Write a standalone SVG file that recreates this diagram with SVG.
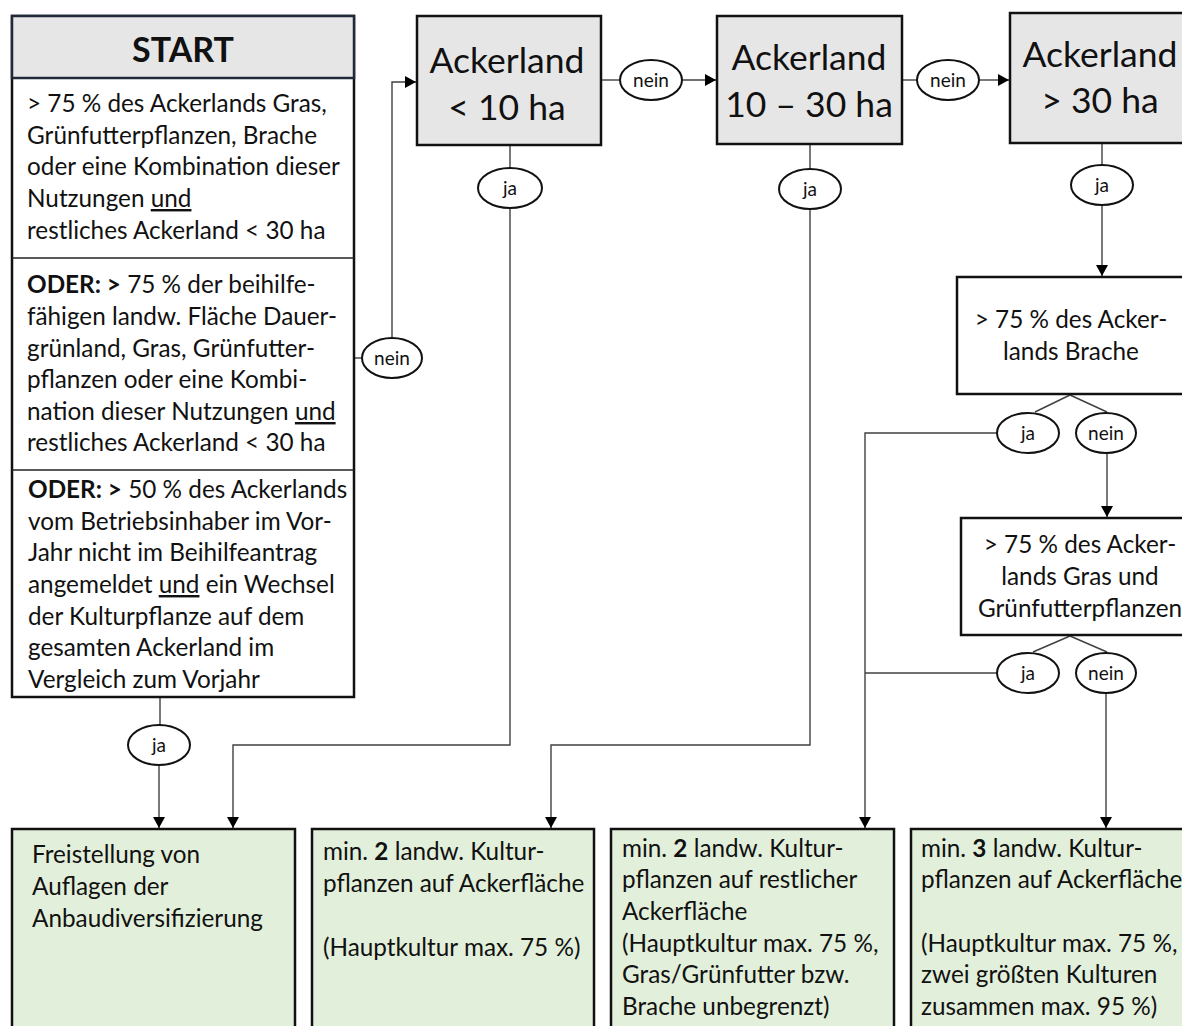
<svg xmlns="http://www.w3.org/2000/svg" width="1182" height="1026" viewBox="0 0 1182 1026">
<defs>
<marker id="arr" markerWidth="12" markerHeight="12" refX="11" refY="6" orient="auto" markerUnits="userSpaceOnUse">
<path d="M0,0 L11,6 L0,12 z" fill="#000"/>
</marker>
<style>
text{font-family:Lato,"Open Sans","Liberation Sans",sans-serif;fill:#111;}
.body{font-size:24.3px;}
.big{font-size:35.5px;text-anchor:middle;}
.lbl{font-size:19px;text-anchor:middle;}
.grey{fill:#e7e6e6;stroke:#111;stroke-width:2.5;}
.green{fill:#e2efda;stroke:#111;stroke-width:2.5;}
.white{fill:#fff;stroke:#111;stroke-width:2.5;}
.div{stroke:#222;stroke-width:1.5;fill:none;}
.ell{fill:#fff;stroke:#111;stroke-width:2;}
.con{fill:none;stroke:#404040;stroke-width:1.4;}
.arrow{marker-end:url(#arr);}
.b{font-weight:bold;}
.u{text-decoration:underline;}
</style>
</defs>
<rect width="1182" height="1026" fill="#fff"/>

<g id="connectors">
<path class="con" d="M354,358 L362,358"/>
<path class="con arrow" d="M392,338 L392,82 L416,82"/>
<path class="con" d="M601,80 L620,80"/>
<path class="con arrow" d="M682,80 L716,80"/>
<path class="con" d="M902,80 L918,80"/>
<path class="con arrow" d="M979,80 L1009,80"/>
<path class="con" d="M160,697 L160,725"/>
<path class="con arrow" d="M159,765 L159,828"/>
<path class="con" d="M510,145 L510,168"/>
<path class="con arrow" d="M510,208 L510,745 L233,745 L233,828"/>
<path class="con" d="M810,144 L810,169"/>
<path class="con arrow" d="M810,209 L810,745 L551,745 L551,828"/>
<path class="con" d="M1102,143 L1102,166"/>
<path class="con arrow" d="M1102,205 L1102,276"/>
<path class="con" d="M1070,395 L1035,412 M1070,395 L1107,412"/>
<path class="con arrow" d="M997,433 L865,433 L865,828"/>
<path class="con arrow" d="M1107,453 L1107,517"/>
<path class="con" d="M1070,636 L1033,652 M1070,636 L1107,652"/>
<path class="con" d="M997,673 L865,673"/>
<path class="con arrow" d="M1106,693 L1106,828"/>
</g>

<g id="start">
<rect x="12" y="16" width="342" height="681" fill="#fff" stroke="#111" stroke-width="2.5"/>
<rect x="12" y="16" width="342" height="62" fill="#e7e6e6" stroke="#1f2a3a" stroke-width="2.5"/>
<text x="183" y="62" class="b" font-size="34" text-anchor="middle">START</text>
<line class="div" x1="12" y1="258" x2="354" y2="258"/>
<line class="div" x1="12" y1="470" x2="354" y2="470"/>
<text class="body">
<tspan x="27" y="112">&gt; 75 % des Ackerlands Gras,</tspan>
<tspan x="27" y="144">Grünfutterpflanzen, Brache</tspan>
<tspan x="27" y="175">oder eine Kombination dieser</tspan>
<tspan x="27" y="207">Nutzungen <tspan class="u">und</tspan></tspan>
<tspan x="27" y="239">restliches Ackerland &lt; 30 ha</tspan>
</text>
<text class="body">
<tspan x="27" y="293"><tspan class="b">ODER: &gt;</tspan> 75 % der beihilfe-</tspan>
<tspan x="27" y="325">fähigen landw. Fläche Dauer-</tspan>
<tspan x="27" y="357">grünland, Gras, Grünfutter-</tspan>
<tspan x="27" y="388">pflanzen oder eine Kombi-</tspan>
<tspan x="27" y="420">nation dieser Nutzungen <tspan class="u">und</tspan></tspan>
<tspan x="27" y="451">restliches Ackerland &lt; 30 ha</tspan>
</text>
<text class="body">
<tspan x="28" y="498"><tspan class="b">ODER: &gt;</tspan> 50 % des Ackerlands</tspan>
<tspan x="28" y="530">vom Betriebsinhaber im Vor-</tspan>
<tspan x="28" y="561">Jahr nicht im Beihilfeantrag</tspan>
<tspan x="28" y="593">angemeldet <tspan class="u">und</tspan> ein Wechsel</tspan>
<tspan x="28" y="625">der Kulturpflanze auf dem</tspan>
<tspan x="28" y="656">gesamten Ackerland im</tspan>
<tspan x="28" y="688">Vergleich zum Vorjahr</tspan>
</text>
</g>

<g id="acker-lt10">
<rect class="grey" x="417" y="16" width="184" height="129"/>
<text class="big" x="507" y="73">Ackerland</text>
<text class="big" x="507" y="120">&lt; 10 ha</text>
</g>
<g id="acker-10-30">
<rect class="grey" x="717" y="16" width="185" height="128"/>
<text class="big" x="809" y="70">Ackerland</text>
<text class="big" x="809" y="117">10 – 30 ha</text>
</g>
<g id="acker-gt30">
<rect class="grey" x="1010" y="13" width="200" height="130"/>
<text class="big" x="1100" y="67">Ackerland</text>
<text class="big" x="1100" y="113">&gt; 30 ha</text>
</g>

<g id="brache">
<rect class="white" x="957" y="277" width="250" height="117"/>
<text class="body" text-anchor="middle"><tspan x="1071" y="328">&gt; 75 % des Acker-</tspan><tspan x="1071" y="360">lands Brache</tspan></text>
</g>
<g id="gras">
<rect class="white" x="961" y="518" width="250" height="117"/>
<text class="body" text-anchor="middle"><tspan x="1080" y="553">&gt; 75 % des Acker-</tspan><tspan x="1080" y="585">lands Gras und</tspan><tspan x="1080" y="617">Grünfutterpflanzen</tspan></text>
</g>

<g id="labels">
<g id="lbl-start-nein"><ellipse class="ell" cx="392" cy="358" rx="30" ry="20"/><text class="lbl" x="392" y="364.5">nein</text></g>
<g id="lbl-start-ja"><ellipse class="ell" cx="159" cy="745" rx="31" ry="20"/><text class="lbl" x="159" y="751.5">ja</text></g>
<g id="lbl-b1-nein"><ellipse class="ell" cx="651" cy="80" rx="31" ry="20"/><text class="lbl" x="651" y="86.5">nein</text></g>
<g id="lbl-b2-nein"><ellipse class="ell" cx="948" cy="80" rx="31" ry="20"/><text class="lbl" x="948" y="86.5">nein</text></g>
<g id="lbl-b1-ja"><ellipse class="ell" cx="510" cy="188" rx="32" ry="20"/><text class="lbl" x="510" y="194.5">ja</text></g>
<g id="lbl-b2-ja"><ellipse class="ell" cx="810" cy="189" rx="31" ry="20"/><text class="lbl" x="810" y="195.5">ja</text></g>
<g id="lbl-b3-ja"><ellipse class="ell" cx="1102" cy="185" rx="31" ry="20"/><text class="lbl" x="1102" y="191.5">ja</text></g>
<g id="lbl-br-ja"><ellipse class="ell" cx="1028" cy="433" rx="31" ry="20"/><text class="lbl" x="1028" y="439.5">ja</text></g>
<g id="lbl-br-nein"><ellipse class="ell" cx="1106" cy="433" rx="30" ry="20"/><text class="lbl" x="1106" y="439.5">nein</text></g>
<g id="lbl-gr-ja"><ellipse class="ell" cx="1028" cy="673" rx="31" ry="20"/><text class="lbl" x="1028" y="679.5">ja</text></g>
<g id="lbl-gr-nein"><ellipse class="ell" cx="1106" cy="673" rx="30" ry="20"/><text class="lbl" x="1106" y="679.5">nein</text></g>
</g>

<g id="res-freistellung">
<rect class="green" x="12" y="829" width="283" height="220"/>
<text class="body"><tspan x="32" y="863">Freistellung von</tspan><tspan x="32" y="895">Auflagen der</tspan><tspan x="32" y="927">Anbaudiversifizierung</tspan></text>
</g>
<g id="res-min2">
<rect class="green" x="312" y="829" width="282" height="220"/>
<text class="body"><tspan x="323" y="860">min. <tspan class="b">2</tspan> landw. Kultur-</tspan><tspan x="323" y="892">pflanzen auf Ackerfläche</tspan><tspan x="323" y="956">(Hauptkultur max. 75 %)</tspan></text>
</g>
<g id="res-min2-rest">
<rect class="green" x="611" y="829" width="283" height="220"/>
<text class="body"><tspan x="622" y="857">min. <tspan class="b">2</tspan> landw. Kultur-</tspan><tspan x="622" y="888">pflanzen auf restlicher</tspan><tspan x="622" y="920">Ackerfläche</tspan><tspan x="622" y="952">(Hauptkultur max. 75 %,</tspan><tspan x="622" y="983">Gras/Grünfutter bzw.</tspan><tspan x="622" y="1015">Brache unbegrenzt)</tspan></text>
</g>
<g id="res-min3">
<rect class="green" x="911" y="829" width="300" height="220"/>
<text class="body"><tspan x="921" y="857">min. <tspan class="b">3</tspan> landw. Kultur-</tspan><tspan x="921" y="888">pflanzen auf Ackerfläche</tspan><tspan x="921" y="952">(Hauptkultur max. 75 %,</tspan><tspan x="921" y="983">zwei größten Kulturen</tspan><tspan x="921" y="1015">zusammen max. 95 %)</tspan></text>
</g>
</svg>
